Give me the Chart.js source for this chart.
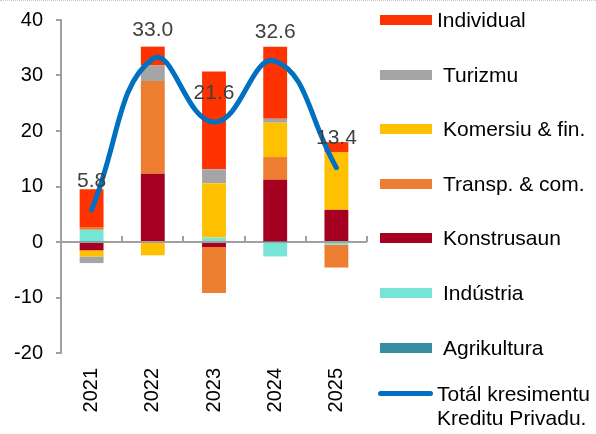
<!DOCTYPE html>
<html>
<head>
<meta charset="utf-8">
<script src="https://cdn.jsdelivr.net/npm/chart.js@4.4.1/dist/chart.umd.min.js"></script>
<style>
    body { margin: 0; background: #fff; }
    #wrap { position: relative; width: 596px; height: 434px; font-family: "Liberation Sans", Arial, sans-serif; }
    #wrap:before { content: ''; position: absolute; left: 0; right: 0; top: 0; border-top: 1px dotted #c8c8c8; }
    canvas { position: absolute; left: 0; top: 0; }
    .leg { position: absolute; left: 380px; font-size: 21px; color: #000; line-height: 24px; white-space: nowrap; }
    .leg .sw { position: absolute; left: 0; top: 7px; width: 52px; height: 10px; }
    .leg .ln { position: absolute; left: -2px; top: 9px; width: 55px; height: 5px; border-radius: 3px; }
    .leg .tx { position: absolute; left: 63px; top: 0; }
</style>
</head>
<body>
<div id="wrap">
    <canvas id="creditChart" width="596" height="434"></canvas>
</div>
<script>
// Chart data
const years = ['2021', '2022', '2023', '2024', '2025'];
const agrikultura = [0.1, 0.0, 0.0, 0.1, 0.0];
const industria = [2.1, 0.0, 0.8, -2.6, -0.5];
const konstrusaun = [-1.5, 12.3, -0.9, 11.1, 5.8];
const transpCom = [0.5, 16.7, -8.3, 4.1, -4.1];
const komersiuFin = [-1.1, -2.4, 9.8, 6.2, 10.4];
const turizmu = [-1.2, 2.8, 2.5, 0.7, 0.0];
const individual = [6.8, 3.4, 17.6, 13.0, 1.8];
const totalCredit = [5.8, 33.0, 21.6, 32.6, 13.4];
const yTicks = [-20, -10, 0, 10, 20, 30, 40];

const FONT = '"Liberation Sans", Arial, sans-serif';
const AXIS_GRAY = '#a0a0a0';

// bar series, bottom of stack first
const barSeries = [
    { label: 'Agrikultura', data: agrikultura, color: '#388ca3' },
    { label: 'Indústria', data: industria, color: '#76e5d6' },
    { label: 'Konstrusaun', data: konstrusaun, color: '#a50021' },
    { label: 'Transp. & com.', data: transpCom, color: '#ed7d31' },
    { label: 'Komersiu & fin.', data: komersiuFin, color: '#ffc000' },
    { label: 'Turizmu', data: turizmu, color: '#a5a5a5' },
    { label: 'Individual', data: individual, color: '#ff3300' }
];
const lineLabel = ['Totál kresimentu', 'Kreditu Privadu.'];
const lineColor = '#0070c0';

const datasets = barSeries.map(s => ({
    type: 'bar',
    label: s.label,
    data: s.data,
    backgroundColor: s.color,
    borderWidth: 0,
    barPercentage: 1,
    categoryPercentage: 0.39,
    order: 1
}));
datasets.push({
    type: 'line',
    label: lineLabel.join(' '),
    data: totalCredit,
    borderColor: lineColor,
    borderWidth: 5,
    borderCapStyle: 'round',
    tension: 0.45,
    pointRadius: 0,
    fill: false,
    stack: 'total',
    order: 0
});

// small tick marks on the zero line between categories
const zeroTicks = {
    id: 'zeroTicks',
    afterDraw(chart) {
        const x = chart.scales.x, y = chart.scales.y;
        const ctx = chart.ctx;
        const y0 = y.getPixelForValue(0);
        const step = x.getPixelForValue(1) - x.getPixelForValue(0);
        ctx.save();
        ctx.strokeStyle = AXIS_GRAY;
        ctx.lineWidth = 2;
        ctx.beginPath();
        for (let i = 0; i < years.length; i++) {
            const px = Math.round(x.getPixelForValue(i) + step / 2);
            ctx.moveTo(px, y0);
            ctx.lineTo(px, y0 - 6);
        }
        ctx.stroke();
        ctx.restore();
    }
};

// value labels above the total line
const lineLabels = {
    id: 'lineLabels',
    afterDatasetsDraw(chart) {
        const idx = chart.data.datasets.length - 1;
        const meta = chart.getDatasetMeta(idx);
        const ctx = chart.ctx;
        ctx.save();
        ctx.font = '21px ' + FONT;
        ctx.fillStyle = '#404040';
        ctx.textAlign = 'center';
        ctx.textBaseline = 'middle';
        meta.data.forEach((pt, i) => {
            ctx.fillText(totalCredit[i].toFixed(1), pt.x, pt.y - 29);
        });
        ctx.restore();
    }
};

new Chart(document.getElementById('creditChart'), {
    type: 'bar',
    data: { labels: years, datasets: datasets },
    options: {
        responsive: false,
        animation: false,
        layout: { padding: { top: 20, right: 229, left: 0, bottom: 0 } },
        plugins: {
            legend: { display: false },
            tooltip: { enabled: false }
        },
        scales: {
            x: {
                stacked: true,
                grid: { display: false },
                border: { display: false },
                ticks: {
                    minRotation: 90,
                    maxRotation: 90,
                    padding: 7,
                    color: '#000',
                    font: { family: FONT, size: 20 }
                },
                afterFit(scale) { scale.height = 81; }
            },
            y: {
                stacked: true,
                min: -20,
                max: 40,
                afterBuildTicks(scale) { scale.ticks = yTicks.map(v => ({ value: v })); },
                grid: {
                    color: c => (c.tick && c.tick.value === 0 ? AXIS_GRAY : 'rgba(0,0,0,0)'),
                    lineWidth: 2,
                    tickColor: AXIS_GRAY,
                    tickLength: 5
                },
                border: { display: true, color: AXIS_GRAY, width: 2 },
                ticks: {
                    padding: 13,
                    color: '#000',
                    font: { family: FONT, size: 20 }
                },
                afterFit(scale) {
                    scale.width = 61;
                    scale.paddingTop = 0;
                    scale.paddingBottom = 0;
                }
            }
        }
    },
    plugins: [zeroTicks, lineLabels]
});

// legend on the right, top to bottom (reverse of stack order)
const wrap = document.getElementById('wrap');
const rows = barSeries.slice().reverse();
const pitch = 54.6;
rows.forEach((s, i) => {
    const el = document.createElement('div');
    el.className = 'leg';
    el.style.top = (8 + i * pitch) + 'px';
    el.innerHTML = '<span class="sw" style="background:' + s.color + '"></span>' +
        '<span class="tx" style="left:' + (i === 0 ? 57 : 63) + 'px">' + s.label + '</span>';
    wrap.appendChild(el);
});
const lineRow = document.createElement('div');
lineRow.className = 'leg';
lineRow.style.top = (8 + rows.length * pitch - 8) + 'px';
lineRow.innerHTML = '<span class="ln" style="background:' + lineColor + '"></span>' +
    '<span class="tx" style="left:57px">' + lineLabel.join('<br>') + '</span>';
wrap.appendChild(lineRow);
</script>
</body>
</html>
